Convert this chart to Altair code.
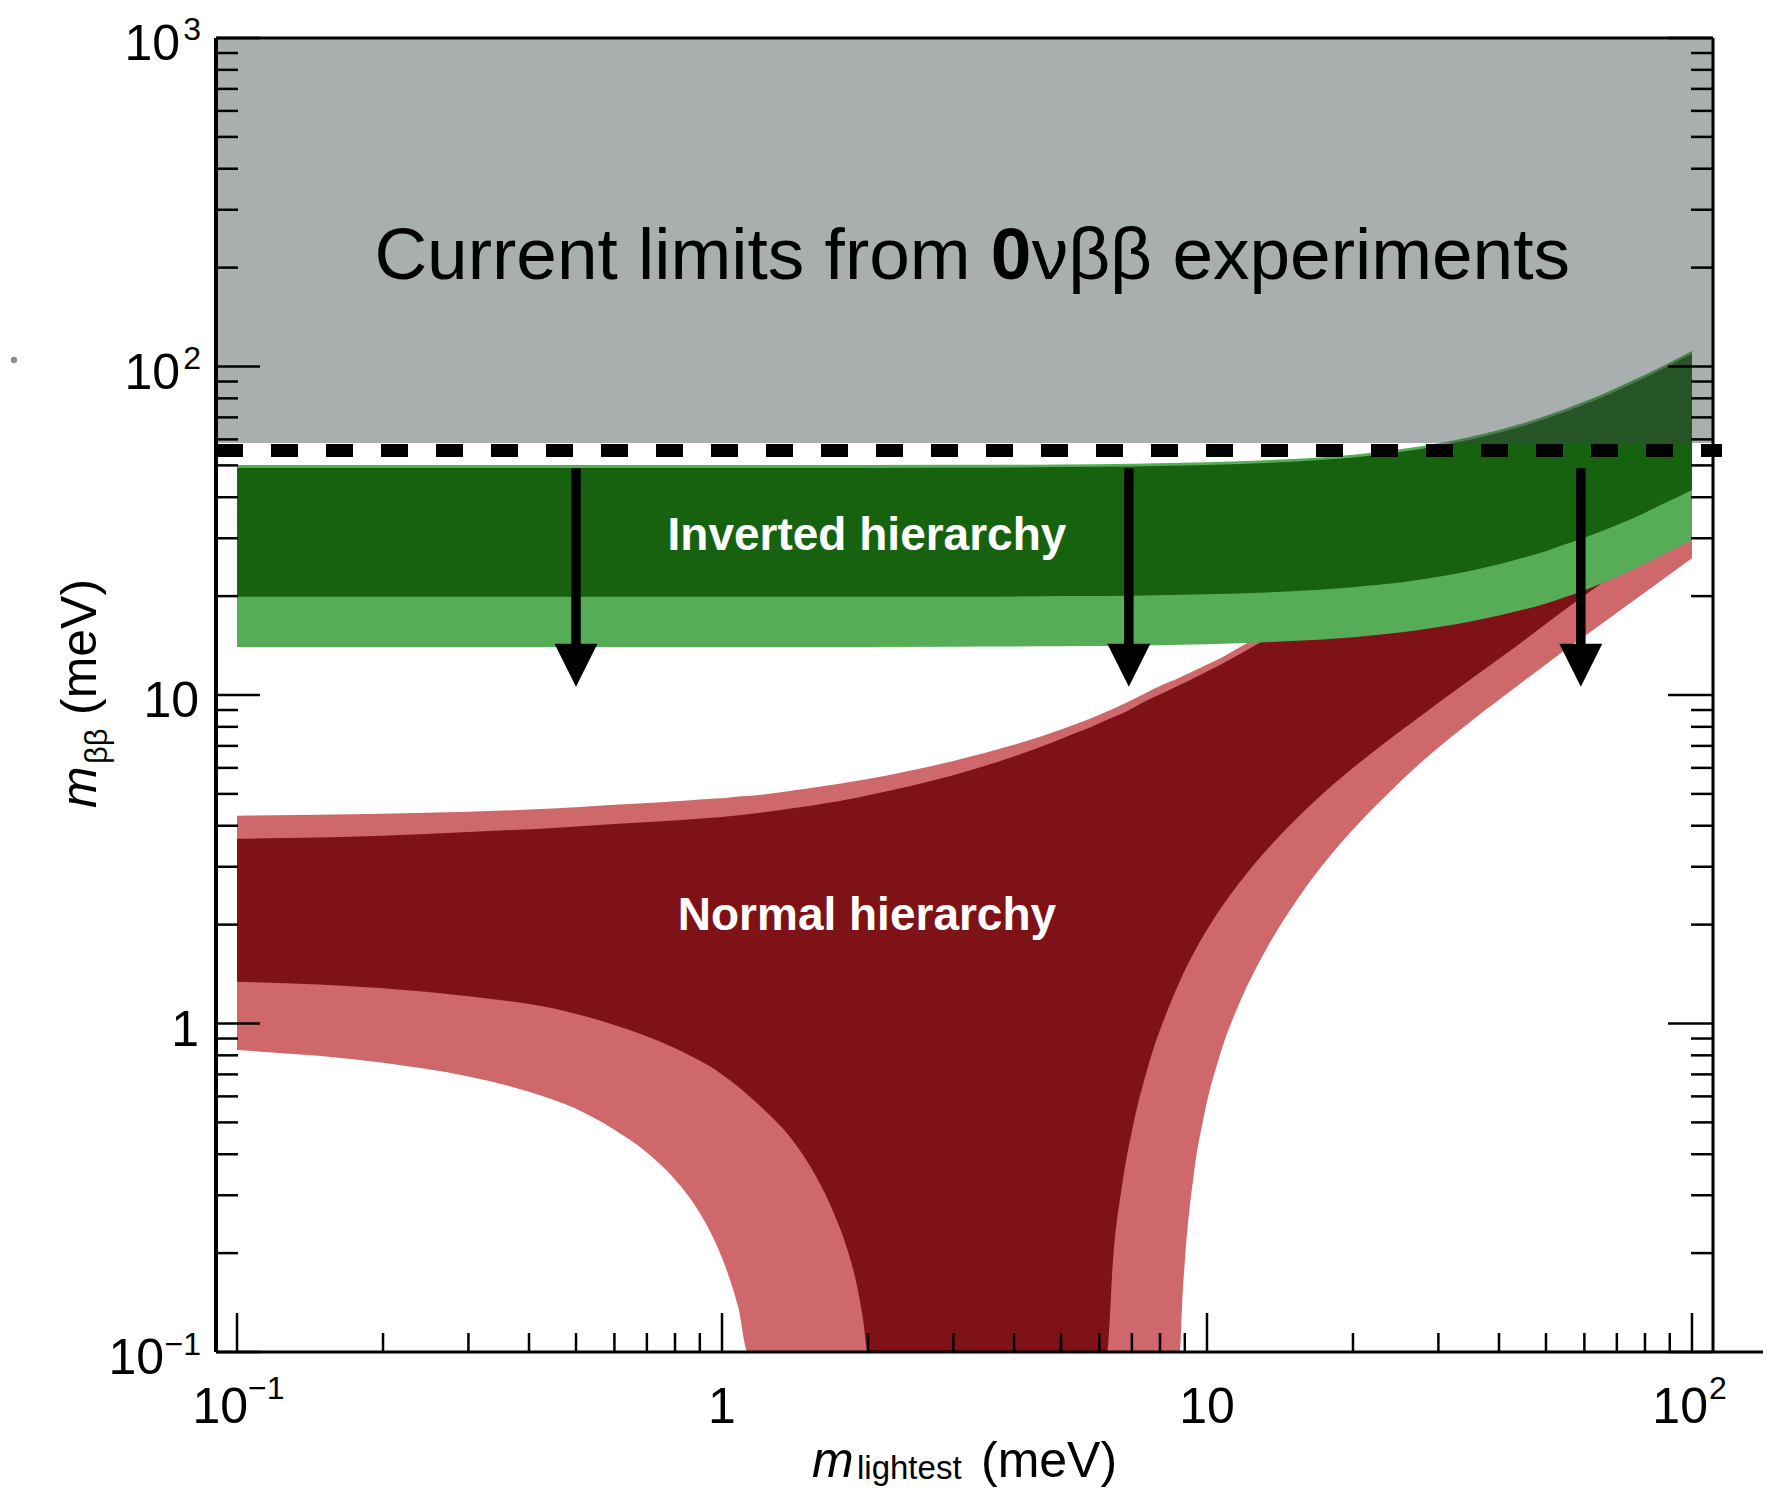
import altair as alt
import pandas as pd

# ---------------- data ----------------
X_DOMAIN = [0.0905, 110.5]   # m_lightest (meV), log axis
Y_DOMAIN = [0.1, 1000]       # m_bb (meV), log axis

# Normal hierarchy, outer (light) band
nh_outer_x = [0.1, 0.2, 0.3, 0.4, 0.5, 0.6, 0.7, 0.8, 0.9, 0.97, 1.03, 1.08, 1.13,
              1.5, 2.0, 3.0, 4.0, 5.0, 6.0, 7.0, 8.0, 8.79,
              8.9, 9.02, 9.4, 9.9, 10.6, 11.8, 13.0, 15.4, 19.7, 23.1, 27.5, 33.7, 41.6, 50.9, 70, 100]
nh_outer_lo = [0.83, 0.76, 0.69, 0.62, 0.55, 0.475, 0.405, 0.335, 0.265, 0.215, 0.172, 0.137, 0.1,
               0.1, 0.1, 0.1, 0.1, 0.1, 0.1, 0.1, 0.1, 0.1,
               0.147, 0.197, 0.35, 0.54, 0.79, 1.2, 1.6, 2.4, 3.8, 4.85, 6.2, 7.95, 10.1, 12.65, 17.8, 26.1]
nh_outer_hi = [4.29, 4.35, 4.41, 4.48, 4.55, 4.63, 4.69, 4.75, 4.81, 4.84, 4.87, 4.91, 4.93,
               5.19, 5.55, 6.3, 7.05, 7.85, 8.7, 9.65, 10.65, 11.3,
               11.4, 11.5, 11.85, 12.3, 12.9, 14.1, 15.3, 17.6, 21.7, 25.0, 29.4, 35.5, 43.4, 52.7, 72, 102]

# Normal hierarchy, inner (dark) band
nh_inner_x = [0.1, 0.2, 0.3, 0.45, 0.6, 0.8, 1.0, 1.2, 1.4, 1.55, 1.7, 1.8, 1.9, 1.95, 2.0,
              3.0, 4.0, 5.0, 6.0, 6.22,
              6.4, 6.7, 7.0, 7.6, 8.4, 9.1, 10.0, 10.8, 12.5, 14.3, 17.3, 21.7, 27.5, 34.8, 43.5, 55, 70, 100]
nh_inner_lo = [1.34, 1.28, 1.21, 1.11, 0.99, 0.84, 0.70, 0.56, 0.44, 0.35, 0.265, 0.212, 0.158, 0.128, 0.1,
               0.1, 0.1, 0.1, 0.1, 0.1,
               0.19, 0.33, 0.47, 0.76, 1.15, 1.5, 1.93, 2.3, 3.05, 3.8, 5.0, 6.6, 8.6, 11.1, 14.1, 18.3, 23.6, 34.0]
nh_inner_hi = [3.65, 3.73, 3.83, 3.94, 4.05, 4.15, 4.25, 4.38, 4.52, 4.62, 4.72, 4.8, 4.87, 4.91, 4.95,
               5.7, 6.5, 7.35, 8.2, 8.4,
               8.55, 8.8, 9.1, 9.7, 10.4, 11.0, 11.8, 12.5, 14.1, 15.8, 18.6, 22.8, 28.4, 35.5, 44.0, 55.4, 70.3, 100.3]

# Inverted hierarchy
ih_x = [0.1, 0.3, 1, 3, 5, 7, 10, 15, 20, 25, 30, 35, 40, 45, 50, 55, 60, 65, 70, 80, 90, 100]
ih_outer_hi = [50.1, 50.1, 50.11, 50.2, 50.35, 50.6, 51.1, 52.3, 53.9, 56.0, 58.4, 61.1, 64.1, 67.3, 70.8,
               74.4, 78.2, 82.1, 86.1, 94.3, 102.9, 111.5]
ih_inner_hi = [49.1, 49.1, 49.1, 49.2, 49.4, 49.6, 50.1, 51.3, 52.8, 54.9, 57.3, 59.9, 62.8, 66.0, 69.4,
               72.9, 76.7, 80.5, 84.4, 92.4, 100.9, 109.3]
ih_inner_lo = [19.9, 19.9, 19.9, 19.9, 20.0, 20.05, 20.25, 20.7, 21.3, 22.0, 22.9, 23.9, 25.0, 26.2, 27.4,
               28.8, 30.1, 31.5, 32.9, 35.9, 39.0, 42.1]
ih_outer_lo = [14.0, 14.0, 14.0, 14.03, 14.07, 14.12, 14.26, 14.6, 15.0, 15.5, 16.1, 16.75, 17.45, 18.2, 19.0,
               19.9, 20.85, 21.85, 22.9, 25.1, 27.4, 29.7]

# Current experimental limit
limit_value = 55.5
excluded_lo = 58.5

# Arrows
arrow_x = [0.5, 6.9, 59]
arrow_top = 49.0
arrow_base = 14.2
arrow_tip = 10.6

# Ticks
y_major = [0.1, 1, 10, 100, 1000]
y_minor = [0.2, 0.3, 0.4, 0.5, 0.6, 0.7, 0.8, 0.9, 2, 3, 4, 5, 6, 7, 8, 9,
           20, 30, 40, 50, 60, 70, 80, 90, 200, 300, 400, 500, 600, 700, 800, 900]
x_major = [0.1, 1, 10, 100]
x_minor = [0.2, 0.3, 0.4, 0.5, 0.6, 0.7, 0.8, 0.9, 2, 3, 4, 5, 6, 7, 8, 9,
           20, 30, 40, 50, 60, 70, 80, 90]

y_plain_vals = [1, 10]
y_plain_text = ["1", "10"]
y_pos_vals = [100, 1000]
y_pos_exp = ["2", "3"]
y_neg_vals = [0.1]
y_neg_exp = ["\u22121"]
x_plain_vals = [1, 10]
x_plain_text = ["1", "10"]
x_neg_vals = [0.1]
x_neg_exp = ["\u22121"]
x_pos_vals = [100]
x_pos_exp = ["2"]

region_x = [1.99, 1.99]
region_y = [27.6, 1.93]
region_text = ["Inverted hierarchy", "Normal hierarchy"]
limit_text_x = 3.58
limit_text_y = 184.6

# ---------------- chart ----------------
W, H = 1497, 1314
FONT = "Liberation Sans"
xs = alt.Scale(type="log", domain=X_DOMAIN, nice=False)
ys = alt.Scale(type="log", domain=Y_DOMAIN, nice=False)


def X(f):
    return alt.X(f, type="quantitative", scale=xs, axis=None)


def Y(f):
    return alt.Y(f, type="quantitative", scale=ys, axis=None)


def band(xv, lo, hi, color):
    df = pd.DataFrame({"x": xv, "lo": lo, "hi": hi})
    return alt.Chart(df).mark_area(color=color, opacity=1, interpolate="monotone").encode(
        x=X("x"), y=Y("hi"), y2="lo:Q")


one = pd.DataFrame({"a": [0]})
layers = []
layers.append(band(nh_outer_x, nh_outer_lo, nh_outer_hi, "#CE686B"))
layers.append(band(nh_inner_x, nh_inner_lo, nh_inner_hi, "#7E1216"))
layers.append(band(ih_x, ih_outer_lo, ih_outer_hi, "#57AC57"))
layers.append(band(ih_x, ih_inner_lo, ih_inner_hi, "#17620F"))

gray_df = pd.DataFrame({"x1": [X_DOMAIN[0]], "x2": [X_DOMAIN[1]], "y1": [excluded_lo], "y2": [Y_DOMAIN[1]]})
layers.append(alt.Chart(gray_df).mark_rect(color="#394545", opacity=0.435).encode(
    x=X("x1"), x2="x2:Q", y=Y("y1"), y2="y2:Q"))

layers.append(alt.Chart(pd.DataFrame({"y": [limit_value]})).mark_rule(
    color="black", strokeWidth=13, strokeDash=[27, 28], strokeCap="butt").encode(
    y=Y("y"), x=alt.value(0), x2=alt.value(W + 9)))

arr_df = pd.DataFrame({"x": arrow_x, "top": [arrow_top] * len(arrow_x),
                       "base": [arrow_base] * len(arrow_x), "tip": [arrow_tip] * len(arrow_x)})
layers.append(alt.Chart(arr_df).mark_rule(color="black", strokeWidth=9.5, strokeCap="butt").encode(
    x=X("x"), y=Y("top"), y2="base:Q"))
layers.append(alt.Chart(arr_df).mark_point(shape="M-1,-2L1,-2L0,0Z", size=1849, filled=True,
                                           color="black", opacity=1, strokeWidth=0).encode(
    x=X("x"), y=Y("tip")))

reg_df = pd.DataFrame({"x": region_x, "y": region_y, "t": region_text})
layers.append(alt.Chart(reg_df).mark_text(font=FONT, fontSize=46, fontWeight="bold", color="white",
                                          align="center", baseline="alphabetic").encode(
    x=X("x"), y=Y("y"), text="t:N"))

lim_df = pd.DataFrame({"x": [limit_text_x], "y": [limit_text_y]})
layers.append(alt.Chart(lim_df).mark_text(font=FONT, fontSize=73, color="black", align="right",
                                          baseline="alphabetic", dx=-20, text="Current limits from").encode(
    x=X("x"), y=Y("y")))
layers.append(alt.Chart(lim_df).mark_text(font=FONT, fontSize=73, fontWeight="bold", color="black",
                                          align="left", baseline="alphabetic", text="0").encode(
    x=X("x"), y=Y("y")))
layers.append(alt.Chart(lim_df).mark_text(font=FONT, fontSize=73, color="black", align="left",
                                          baseline="alphabetic", dx=41, text="\u03bd\u03b2\u03b2 experiments").encode(
    x=X("x"), y=Y("y")))

# ticks (inward)
TW = 2.5
ymaj = pd.DataFrame({"v": y_major})
ymin = pd.DataFrame({"v": y_minor})
xmaj = pd.DataFrame({"v": x_major})
xmin = pd.DataFrame({"v": x_minor})
layers.append(alt.Chart(ymaj).mark_rule(color="black", strokeWidth=TW).encode(y=Y("v"), x=alt.value(0), x2=alt.value(44)))
layers.append(alt.Chart(ymin).mark_rule(color="black", strokeWidth=TW).encode(y=Y("v"), x=alt.value(0), x2=alt.value(22)))
layers.append(alt.Chart(ymaj).mark_rule(color="black", strokeWidth=TW).encode(y=Y("v"), x=alt.value(W - 45), x2=alt.value(W)))
layers.append(alt.Chart(ymin).mark_rule(color="black", strokeWidth=TW).encode(y=Y("v"), x=alt.value(W - 22), x2=alt.value(W)))
layers.append(alt.Chart(xmaj).mark_rule(color="black", strokeWidth=TW).encode(x=X("v"), y=alt.value(H - 39), y2=alt.value(H)))
layers.append(alt.Chart(xmin).mark_rule(color="black", strokeWidth=TW).encode(x=X("v"), y=alt.value(H - 19), y2=alt.value(H)))

# frame
layers.append(alt.Chart(one).mark_rule(color="black", strokeWidth=4).encode(x=alt.value(0), y=alt.value(0), y2=alt.value(H)))
layers.append(alt.Chart(one).mark_rule(color="black", strokeWidth=3).encode(x=alt.value(W), y=alt.value(0), y2=alt.value(H)))
layers.append(alt.Chart(one).mark_rule(color="black", strokeWidth=3).encode(y=alt.value(0), x=alt.value(0), x2=alt.value(W)))
layers.append(alt.Chart(one).mark_rule(color="black", strokeWidth=3).encode(y=alt.value(H), x=alt.value(0), x2=alt.value(W + 50)))

# tick labels
YF, XF, EF = 50, 50, 32
layers.append(alt.Chart(pd.DataFrame({"v": y_plain_vals, "t": y_plain_text})).mark_text(
    font=FONT, fontSize=YF, align="right", baseline="alphabetic", dy=22).encode(
    y=Y("v"), x=alt.value(-17), text="t:N"))
ypos = pd.DataFrame({"v": y_pos_vals, "e": y_pos_exp})
layers.append(alt.Chart(ypos).mark_text(font=FONT, fontSize=YF, align="right", baseline="alphabetic",
                                        dy=22, text="10").encode(y=Y("v"), x=alt.value(-36)))
layers.append(alt.Chart(ypos).mark_text(font=FONT, fontSize=EF, align="right", baseline="alphabetic",
                                        dy=2).encode(y=Y("v"), x=alt.value(-15), text="e:N"))
yneg = pd.DataFrame({"v": y_neg_vals, "e": y_neg_exp})
layers.append(alt.Chart(yneg).mark_text(font=FONT, fontSize=YF, align="right", baseline="alphabetic",
                                        dy=22, text="10").encode(y=Y("v"), x=alt.value(-52)))
layers.append(alt.Chart(yneg).mark_text(font=FONT, fontSize=EF, align="right", baseline="alphabetic",
                                        dy=3).encode(y=Y("v"), x=alt.value(-15), text="e:N"))

layers.append(alt.Chart(pd.DataFrame({"v": x_plain_vals, "t": x_plain_text})).mark_text(
    font=FONT, fontSize=XF, align="center", baseline="alphabetic", dy=71).encode(
    x=X("v"), y=alt.value(H), text="t:N"))
xneg = pd.DataFrame({"v": x_neg_vals, "e": x_neg_exp})
layers.append(alt.Chart(xneg).mark_text(font=FONT, fontSize=XF, align="right", baseline="alphabetic",
                                        dy=71, dx=11, text="10").encode(x=X("v"), y=alt.value(H)))
layers.append(alt.Chart(xneg).mark_text(font=FONT, fontSize=EF, align="left", baseline="alphabetic",
                                        dy=47, dx=11).encode(x=X("v"), y=alt.value(H), text="e:N"))
xpos = pd.DataFrame({"v": x_pos_vals, "e": x_pos_exp})
layers.append(alt.Chart(xpos).mark_text(font=FONT, fontSize=XF, align="right", baseline="alphabetic",
                                        dy=71, dx=16, text="10").encode(x=X("v"), y=alt.value(H)))
layers.append(alt.Chart(xpos).mark_text(font=FONT, fontSize=EF, align="left", baseline="alphabetic",
                                        dy=47, dx=17).encode(x=X("v"), y=alt.value(H), text="e:N"))

# axis titles
TF = 50
layers.append(alt.Chart(one).mark_text(font=FONT, fontSize=TF, fontStyle="italic", align="left",
                                       baseline="alphabetic", angle=270, text="m").encode(
    x=alt.value(-120), y=alt.value(770)))
layers.append(alt.Chart(one).mark_text(font=FONT, fontSize=31, align="left", baseline="alphabetic",
                                       angle=270, text="\u03b2\u03b2").encode(x=alt.value(-109), y=alt.value(726)))
layers.append(alt.Chart(one).mark_text(font=FONT, fontSize=TF, align="left", baseline="alphabetic",
                                       angle=270, text="(meV)").encode(x=alt.value(-120), y=alt.value(677)))

layers.append(alt.Chart(one).mark_text(font=FONT, fontSize=TF, fontStyle="italic", align="left",
                                       baseline="alphabetic", text="m").encode(x=alt.value(596), y=alt.value(1439)))
layers.append(alt.Chart(one).mark_text(font=FONT, fontSize=33, align="left", baseline="alphabetic",
                                       text="lightest").encode(x=alt.value(641), y=alt.value(1441)))
layers.append(alt.Chart(one).mark_text(font=FONT, fontSize=TF, align="left", baseline="alphabetic",
                                       text="(meV)").encode(x=alt.value(765), y=alt.value(1439)))

# small stray dot at the left margin
layers.append(alt.Chart(one).mark_circle(color="#8c8c8c", size=40, opacity=1).encode(
    x=alt.value(-202), y=alt.value(322)))

chart = alt.layer(*layers).properties(
    width=W, height=H,
    autosize=alt.AutoSizeParams(type="none"),
    padding={"left": 208, "top": 30, "right": 55, "bottom": 135},
).configure_view(stroke="transparent")

chart.save("out.html", embed_options={"renderer": "svg", "actions": False})
